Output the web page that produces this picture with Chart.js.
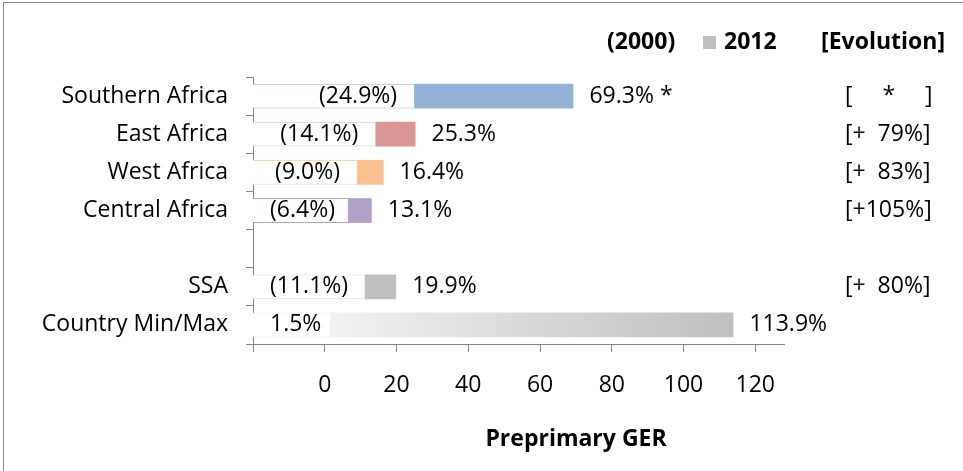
<!DOCTYPE html>
<html lang="en">
<head>
    <meta charset="UTF-8">
    <title>Preprimary GER</title>
    <script src="https://cdn.jsdelivr.net/npm/chart.js"></script>
    <style>
        html, body { margin: 0; padding: 0; background: #fff; }
        #ger-chart { display: block; }
    </style>
</head>
<body>
    <canvas id="ger-chart" width="963" height="471"></canvas>

    <script>
        // Data
        const categories = ['Southern Africa', 'East Africa', 'West Africa', 'Central Africa', '', 'SSA', 'Country Min/Max'];
        const ger2000 = [24.9, 14.1, 9.0, 6.4, null, 11.1, 1.5];
        const ger2012 = [69.3, 25.3, 16.4, 13.1, null, 19.9, 113.9];
        const valueNotes = [' *', '', '', '', '', '', ''];
        const evolution = ['[     *     ]', '[+  79%]', '[+  83%]', '[+105%]', '', '[+  80%]', ''];
        const xTicks = [-20, 0, 20, 40, 60, 80, 100, 120];
        const xTickLabels = ['', '0', '20', '40', '60', '80', '100', '120'];

        const rangeRow = categories.indexOf('Country Min/Max');
        const axisMin = -20;
        const axisMax = 128;

        const barColors = ['#95B3D7', '#D99694', '#FAC090', '#B3A2C7', null, '#BFBFBF', null];
        const edgeColors = ['#95B3D7', '#E6B9B8', '#FCD5B4', '#B3A2C7', null, '#D9D9D9', '#F0F0F0'];
        const axisGrey = '#868686';
        const fontFamily = "'Open Sans', sans-serif";
        const fontSize = 23;

        Chart.defaults.font.family = fontFamily;
        Chart.defaults.font.size = fontSize;
        Chart.defaults.color = '#000';

        function fmt(v) {
            return v.toFixed(1) + '%';
        }

        // bar colour, the min/max row gets a grey fade
        function barFill(ctx) {
            const i = ctx.dataIndex;
            if (i !== rangeRow) return barColors[i];
            const chart = ctx.chart;
            if (!chart.chartArea) return '#BFBFBF';
            const x = chart.scales.x;
            const g = chart.ctx.createLinearGradient(x.getPixelForValue(ger2000[i]), 0, x.getPixelForValue(ger2012[i]), 0);
            g.addColorStop(0, '#F2F2F2');
            g.addColorStop(1, '#BFBFBF');
            return g;
        }

        // texts round the bars, legend line, axis title and frame
        const textPlugin = {
            id: 'gerTexts',
            afterDraw(chart) {
                const c = chart.ctx;
                const meta = chart.getDatasetMeta(1);
                c.save();

                // frame (only left and top edges show in the crop)
                c.fillStyle = '#8a8a8a';
                c.fillRect(3, 2, 1, 469);
                c.fillRect(3, 2, 960, 1);

                c.fillStyle = '#000';
                c.textBaseline = 'middle';
                c.font = fontSize + 'px ' + fontFamily;

                categories.forEach((cat, i) => {
                    if (ger2000[i] == null) return;
                    const bar = meta.data[i];
                    const y = bar.y;
                    const start = Math.min(bar.base, bar.x);
                    const end = Math.max(bar.base, bar.x);

                    const left = i === rangeRow ? fmt(ger2000[i]) : '(' + fmt(ger2000[i]) + ')';
                    const w = c.measureText(left).width;
                    const lx = Math.max(270, start - 17 - w);
                    c.textAlign = 'left';
                    c.fillText(left, lx, y);

                    c.fillText(fmt(ger2012[i]) + valueNotes[i], end + 16, y);

                    if (evolution[i]) c.fillText(evolution[i], 845, y);
                });

                // legend line
                c.font = 'bold ' + fontSize + 'px ' + fontFamily;
                c.textAlign = 'left';
                c.fillText('(2000)', 607, 42);
                c.fillStyle = '#BFBFBF';
                c.fillRect(703, 36, 13, 13);
                c.fillStyle = '#000';
                c.fillText('2012', 724, 42);
                c.textAlign = 'right';
                c.fillText('[Evolution]', 945, 42);

                // axis title
                c.textAlign = 'center';
                c.fillText('Preprimary GER', 576, 439);
                c.restore();
            }
        };

        new Chart(document.getElementById('ger-chart'), {
            type: 'bar',
            data: {
                labels: categories,
                datasets: [
                    {
                        label: '2000',
                        data: ger2000.map(v => v == null ? null : [axisMin, v]),
                        backgroundColor: '#ffffff',
                        borderColor: ctx => edgeColors[ctx.dataIndex] || '#fff',
                        borderWidth: { top: 1, bottom: 1, left: 0, right: 0 },
                        borderSkipped: false,
                        grouped: false,
                        barPercentage: 0.65,
                        categoryPercentage: 1
                    },
                    {
                        label: '2012',
                        data: ger2000.map((v, i) => v == null ? null : [v, ger2012[i]]),
                        backgroundColor: barFill,
                        borderWidth: 0,
                        grouped: false,
                        barPercentage: 0.65,
                        categoryPercentage: 1
                    }
                ]
            },
            options: {
                indexAxis: 'y',
                responsive: false,
                animation: false,
                layout: { padding: { top: 77, right: 179, left: 0, bottom: 0 } },
                plugins: {
                    legend: { display: false },
                    tooltip: { enabled: false }
                },
                scales: {
                    y: {
                        type: 'category',
                        grid: { drawOnChartArea: false, tickLength: 7, color: axisGrey, offset: true },
                        border: { color: axisGrey },
                        ticks: { padding: 18, color: '#000' },
                        afterFit(scale) { scale.width = 253; }
                    },
                    x: {
                        type: 'linear',
                        min: axisMin,
                        max: axisMax,
                        grid: { drawOnChartArea: false, tickLength: 8, color: axisGrey },
                        border: { color: axisGrey },
                        afterBuildTicks(scale) {
                            scale.ticks = xTicks.map(v => ({ value: v }));
                        },
                        ticks: {
                            padding: 20,
                            color: '#000',
                            autoSkip: false,
                            maxRotation: 0,
                            callback: (value) => xTickLabels[xTicks.indexOf(value)]
                        },
                        afterFit(scale) { scale.height = 127; }
                    }
                }
            },
            plugins: [textPlugin]
        });
    </script>
</body>
</html>
